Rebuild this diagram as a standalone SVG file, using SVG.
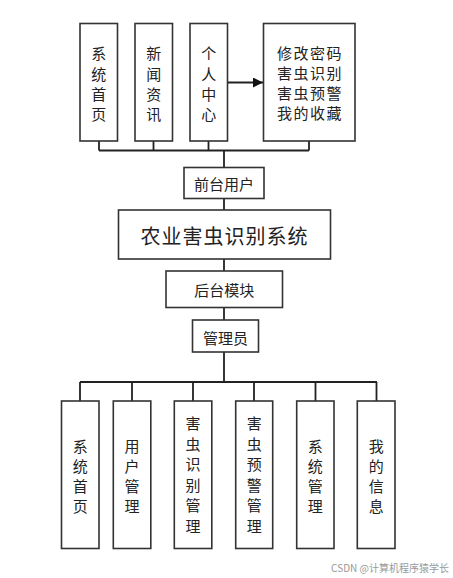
<svg xmlns="http://www.w3.org/2000/svg" width="453" height="578" viewBox="0 0 453 578">
<defs>
<style>
.box{fill:#fff;stroke:#333;stroke-width:1.6}
.ln{fill:none;stroke:#222;stroke-width:1.8}
text{font-family:"Noto Sans CJK SC","Noto Sans",sans-serif;fill:#222;text-anchor:middle;dominant-baseline:central}
.t{font-size:15px}
.big{font-size:20px}
.wm{font-size:10px;fill:#999;text-anchor:end}
</style>
<marker id="arr" viewBox="0 0 10 10" refX="10" refY="5" markerWidth="10" markerHeight="10" markerUnits="userSpaceOnUse" orient="auto">
<path d="M0,0 L10,5 L0,10 z" fill="#111"/>
</marker>
</defs>
<rect width="453" height="578" fill="#fff"/>
<g id="connectors">
<path class="ln" d="M99,141 V150.5 M153.5,141 V150.5 M208.5,141 V150.5 M309,141 V150.5 M99,150.5 H309 M224,150.5 V167.5"/>
<path class="ln" d="M227,82.5 H263" marker-end="url(#arr)"/>
<path class="ln" d="M224,198.5 V210"/>
<path class="ln" d="M224,259 V271"/>
<path class="ln" d="M224,307.5 V320"/>
<path class="ln" d="M224,352 V382 M80,382 H377 M80,382 V401 M132,382 V401 M193,382 V401 M254,382 V401 M315.5,382 V401 M376.5,382 V401"/>
</g>
<g id="n1"><rect class="box" x="80" y="23.5" width="37.5" height="117.5"/>
<text class="t" x="98.8"><tspan x="98.8" y="52">系</tspan><tspan x="98.8" y="72.5">统</tspan><tspan x="98.8" y="93">首</tspan><tspan x="98.8" y="113">页</tspan></text></g>
<g id="n2"><rect class="box" x="135" y="23.5" width="37.5" height="117.5"/>
<text class="t"><tspan x="153.8" y="52">新</tspan><tspan x="153.8" y="72.5">闻</tspan><tspan x="153.8" y="93">资</tspan><tspan x="153.8" y="113">讯</tspan></text></g>
<g id="n3"><rect class="box" x="190" y="23.5" width="37.5" height="117.5"/>
<text class="t"><tspan x="208.8" y="52">个</tspan><tspan x="208.8" y="72.5">人</tspan><tspan x="208.8" y="93">中</tspan><tspan x="208.8" y="113">心</tspan></text></g>
<g id="n4"><rect class="box" x="263.5" y="23.5" width="91.5" height="117.5"/>
<text class="t" letter-spacing="1.5"><tspan x="310" y="52">修改密码</tspan><tspan x="310" y="72">害虫识别</tspan><tspan x="310" y="92">害虫预警</tspan><tspan x="310" y="112">我的收藏</tspan></text></g>
<g id="n5"><rect class="box" x="184" y="167.5" width="80" height="31"/>
<text class="t" x="224" y="183">前台用户</text></g>
<g id="n6"><rect class="box" x="118.5" y="210" width="212" height="49"/>
<text class="big" x="224.5" y="235" letter-spacing="1">农业害虫识别系统</text></g>
<g id="n7"><rect class="box" x="166" y="271" width="116.5" height="36.5"/>
<text class="t" x="224.2" y="289">后台模块</text></g>
<g id="n8"><rect class="box" x="192.5" y="320" width="66" height="32"/>
<text class="t" x="225.5" y="337">管理员</text></g>
<g id="b1"><rect class="box" x="61.5" y="401" width="37.5" height="147.5"/>
<text class="t"><tspan x="80.3" y="445">系</tspan><tspan x="80.3" y="465">统</tspan><tspan x="80.3" y="485">首</tspan><tspan x="80.3" y="505">页</tspan></text></g>
<g id="b2"><rect class="box" x="113.3" y="401" width="37.5" height="147.5"/>
<text class="t"><tspan x="132" y="445">用</tspan><tspan x="132" y="465">户</tspan><tspan x="132" y="485">管</tspan><tspan x="132" y="505">理</tspan></text></g>
<g id="b3"><rect class="box" x="174.3" y="401" width="37.5" height="147.5"/>
<text class="t"><tspan x="193" y="422">害</tspan><tspan x="193" y="442.5">虫</tspan><tspan x="193" y="463">识</tspan><tspan x="193" y="483.5">别</tspan><tspan x="193" y="504">管</tspan><tspan x="193" y="524.5">理</tspan></text></g>
<g id="b4"><rect class="box" x="235.7" y="401" width="37" height="147.5"/>
<text class="t"><tspan x="254.2" y="422">害</tspan><tspan x="254.2" y="442.5">虫</tspan><tspan x="254.2" y="463">预</tspan><tspan x="254.2" y="483.5">警</tspan><tspan x="254.2" y="504">管</tspan><tspan x="254.2" y="524.5">理</tspan></text></g>
<g id="b5"><rect class="box" x="296.7" y="401" width="37.3" height="147.5"/>
<text class="t"><tspan x="315.3" y="445">系</tspan><tspan x="315.3" y="465">统</tspan><tspan x="315.3" y="485">管</tspan><tspan x="315.3" y="505">理</tspan></text></g>
<g id="b6"><rect class="box" x="357.3" y="401" width="37.7" height="147.5"/>
<text class="t"><tspan x="376.2" y="445">我</tspan><tspan x="376.2" y="465">的</tspan><tspan x="376.2" y="485">信</tspan><tspan x="376.2" y="505">息</tspan></text></g>
<text class="wm" x="449" y="567">CSDN @计算机程序猿学长</text>
</svg>
